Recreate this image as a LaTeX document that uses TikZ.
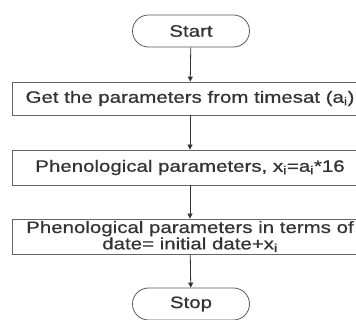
\documentclass[tikz,border=0pt]{standalone}
\usepackage{fontspec}
\setmainfont[FakeStretch=1.24,FakeBold=0.7]{Liberation Sans}
\usetikzlibrary{arrows.meta,shapes.misc}
\begin{document}
\begin{tikzpicture}[x=1pt,y=-1pt,
  every node/.style={font=\fontsize{16.5}{14}\selectfont, text=black!80},
  terminal/.style={draw=black!65, line width=0.8pt, rounded rectangle, minimum width=117pt, minimum height=32pt, inner sep=0pt},
  procbox/.style={draw=black!60, line width=0.8pt, rectangle, minimum width=356pt, inner sep=0pt, align=center},
  flow/.style={draw=black!80, line width=0.8pt, -{Triangle[length=5pt,width=5pt]}}]
  \useasboundingbox (0,0) rectangle (356,320);
  \node[terminal] (start) at (191,31) {Start};
  \node[procbox, minimum height=33pt] (get) at (190,98.5) {Get the parameters from timesat (a\textsubscript{i})};
  \node[procbox, minimum height=35pt] (phen) at (190,167.5) {Phenological parameters, x\textsubscript{i}=a\textsubscript{i}*16};
  \node[procbox, minimum height=35pt] (date) at (190,236.5) {Phenological parameters in terms of\\date= initial date+x\textsubscript{i}};
  \node[terminal] (stop) at (191,304) {Stop};
  \draw[flow] (start) -- (get);
  \draw[flow] (get) -- (phen);
  \draw[flow] (phen) -- (date);
  \draw[flow] (date) -- (stop);
\end{tikzpicture}
\end{document}
